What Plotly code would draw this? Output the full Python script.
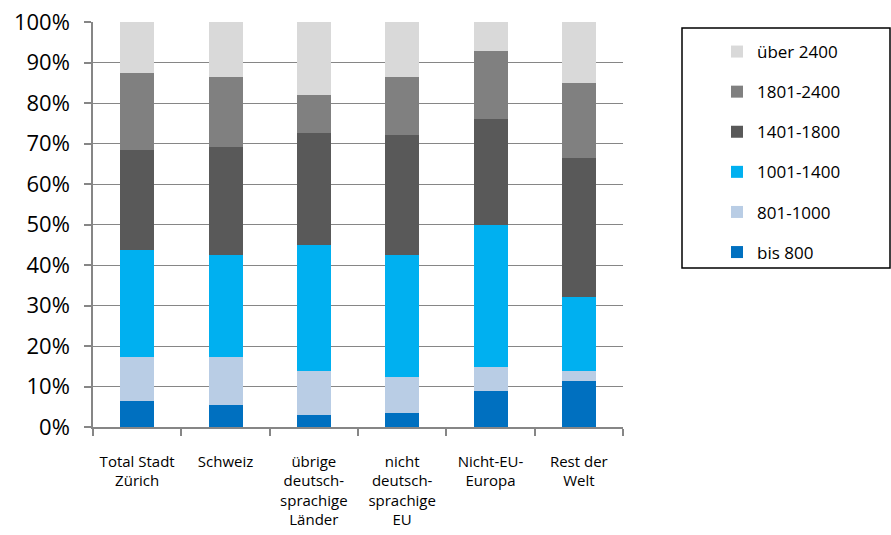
import plotly.graph_objects as go

categories = [
    "Total Stadt<br>Zürich",
    "Schweiz",
    "übrige<br>deutsch-<br>sprachige<br>Länder",
    "nicht<br>deutsch-<br>sprachige<br>EU",
    "Nicht-EU-<br>Europa",
    "Rest der<br>Welt",
]

series_names = ["bis 800", "801-1000", "1001-1400", "1401-1800", "1801-2400", "über 2400"]

bis_800 = [6.4, 5.4, 2.9, 3.4, 8.8, 11.4]
v801_1000 = [11.0, 12.0, 11.0, 9.0, 6.1, 2.5]
v1001_1400 = [26.2, 25.1, 31.1, 30.1, 35.0, 18.2]
v1401_1800 = [24.9, 26.6, 27.5, 29.5, 26.1, 34.4]
v1801_2400 = [19.0, 17.4, 9.5, 14.4, 16.9, 18.5]
ueber_2400 = [12.5, 13.5, 18.0, 13.6, 7.1, 15.0]

series_values = [bis_800, v801_1000, v1001_1400, v1401_1800, v1801_2400, ueber_2400]
colors = ["#0070C0", "#B9CDE5", "#00B0F0", "#595959", "#808080", "#D9D9D9"]

y_ticks = list(range(0, 101, 10))
y_tick_labels = [f"{v}%" for v in y_ticks]

FONT = "Open Sans, Liberation Sans, sans-serif"

fig = go.Figure()
n = len(series_names)
for i, (name, vals, col) in enumerate(zip(series_names, series_values, colors)):
    fig.add_trace(go.Bar(
        x=categories, y=vals, name=name, legendgroup=name,
        legendrank=n - i,
        marker=dict(color=col, line=dict(width=0)),
    ))

W, H = 891, 535
L, R, T, B = 93, 268, 22, 108
pw = W - L - R
ph = H - T - B

def px_x(px):
    return (px - L) / pw

def px_y(py):
    return (H - B - py) / ph

fig.update_layout(
    width=W, height=H,
    margin=dict(l=L, r=R, t=T, b=B, pad=0, autoexpand=False),
    barmode="stack",
    bargap=0.615,
    plot_bgcolor="white",
    paper_bgcolor="white",
    font=dict(family=FONT, color="#000000"),
    showlegend=True,
    legend=dict(
        x=px_x(717), y=px_y(34), xanchor="left", yanchor="top",
        traceorder="grouped",
        tracegroupgap=15,
        font=dict(size=17, family=FONT, color="#000000"),
        bgcolor="rgba(0,0,0,0)", borderwidth=0,
    ),
    xaxis=dict(
        type="category", automargin=False,
        showline=True, linecolor="#868686", linewidth=1.5,
        ticks="outside", tickson="boundaries", ticklen=7, tickcolor="#868686", tickwidth=1.5,
        showgrid=False,
        tickfont=dict(size=15, family=FONT, color="#000000"),
        ticklabelstandoff=20,
    ),
    yaxis=dict(
        range=[0, 100], automargin=False,
        tickvals=y_ticks, ticktext=y_tick_labels,
        showline=True, linecolor="#868686", linewidth=1.5,
        ticks="outside", ticklen=7, tickcolor="#868686", tickwidth=1.5,
        showgrid=True, gridcolor="#868686", gridwidth=1.2,
        zeroline=False,
        tickfont=dict(size=22, family=FONT, color="#000000"),
        ticklabelstandoff=10,
    ),
    shapes=[dict(
        type="rect", xref="paper", yref="paper",
        x0=px_x(682), x1=px_x(890), y0=px_y(268), y1=px_y(28),
        line=dict(color="#000000", width=1.5), fillcolor="rgba(0,0,0,0)",
    )],
)

fig.write_html("out.html")
